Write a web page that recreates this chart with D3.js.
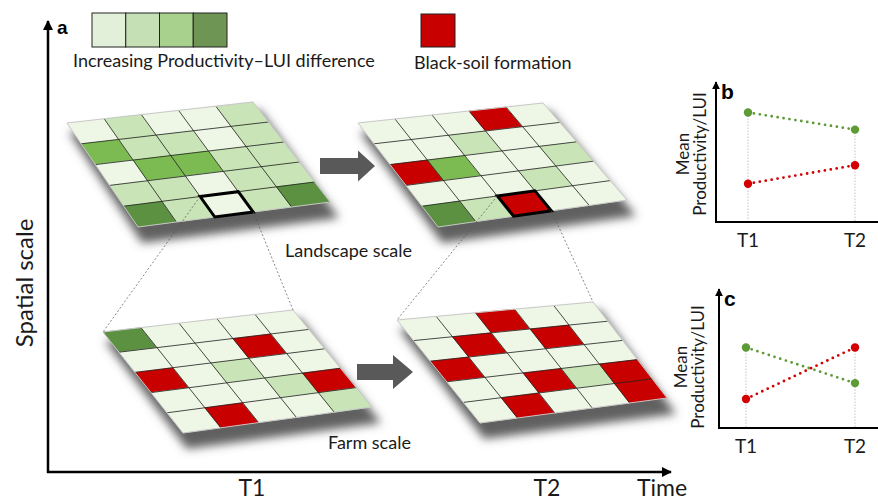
<!DOCTYPE html>
<html>
<head>
<meta charset="utf-8">
<script src="https://cdn.jsdelivr.net/npm/d3@7"></script>
<style>
  body { margin: 0; background: #fff; }
  svg { display: block; font-family: Lato, 'Noto Sans', sans-serif; }
</style>
</head>
<body>
<svg id="chart" width="878" height="502"></svg>
<script>
/* Productivity–LUI grids over time and spatial scale */

// cell codes: 1-4 = productivity–LUI difference level, 5 = black-soil formation
const landscapeT1 = [
  [1, 2, 1, 1, 2],
  [3, 2, 2, 1, 2],
  [1, 3, 3, 2, 2],
  [2, 2, 1, 2, 2],
  [4, 2, 1, 2, 4]
];
const landscapeT2 = [
  [1, 1, 1, 5, 1],
  [1, 1, 2, 1, 1],
  [5, 3, 1, 1, 2],
  [1, 1, 1, 2, 1],
  [4, 2, 5, 1, 1]
];
const farmT1 = [
  [4, 1, 1, 1, 1],
  [1, 1, 1, 5, 1],
  [5, 1, 2, 1, 1],
  [1, 1, 1, 2, 5],
  [1, 5, 1, 1, 2]
];
const farmT2 = [
  [1, 1, 5, 1, 1],
  [1, 5, 1, 5, 1],
  [5, 1, 1, 1, 1],
  [1, 1, 5, 2, 5],
  [1, 5, 1, 1, 5]
];
const legendLevels = [1, 2, 3, 4];
const times = ['T1', 'T2'];
// panel b / c: mean productivity (green) and LUI (red) at T1, T2
const panelBGreen = [0.83, 0.70];
const panelBRed = [0.29, 0.43];
const panelCGreen = [0.61, 0.34];
const panelCRed = [0.22, 0.61];

const ink = '#1a1a1a';
const svg = d3.select('#chart');
const defs = svg.append('defs');

defs.append('filter').attr('id', 'blur')
  .attr('x', '-20%').attr('y', '-20%').attr('width', '140%').attr('height', '140%')
  .append('feGaussianBlur').attr('stdDeviation', 5);

defs.append('marker').attr('id', 'arr')
  .attr('viewBox', '0 0 10 10').attr('refX', 9).attr('refY', 5)
  .attr('markerWidth', 4).attr('markerHeight', 4).attr('orient', 'auto')
  .append('path').attr('d', 'M0,0L10,5L0,10Z').attr('fill', '#000');

const cellColor = d3.scaleOrdinal()
  .domain([1, 2, 3, 4, 5])
  .range(['#eef7e6', '#c9e4b6', '#7cbb52', '#5c9142', '#c80000']);
const legendColor = d3.scaleOrdinal()
  .domain(legendLevels)
  .range(['#e2f0d9', '#c5e0b4', '#a9d18e', '#6e9553']);

// grid layout: four corners of each tilted board
const boards = [
  { data: landscapeT1, box: [4, 2], c: { tl: [67, 123], tr: [253, 102], br: [330, 202], bl: [138, 227] } },
  { data: landscapeT2, box: [4, 2], c: { tl: [358, 123], tr: [543, 103], br: [627, 200], bl: [438, 227] } },
  { data: farmT1, c: { tl: [103, 332], tr: [293, 310], br: [372, 407], bl: [183, 433] } },
  { data: farmT2, c: { tl: [397, 320], tr: [593, 302], br: [667, 398], bl: [480, 423] } }
];

const gu = d3.scaleLinear().domain([0, 5]).range([0, 1]);

function pt(c, col, row) {
  const u = gu(col), v = gu(row);
  const tx = c.tl[0] + (c.tr[0] - c.tl[0]) * u, ty = c.tl[1] + (c.tr[1] - c.tl[1]) * u;
  const bx = c.bl[0] + (c.br[0] - c.bl[0]) * u, by = c.bl[1] + (c.br[1] - c.bl[1]) * u;
  return [tx + (bx - tx) * v, ty + (by - ty) * v];
}
function quad(c, col, row, w = 1, h = 1) {
  return [pt(c, col, row), pt(c, col + w, row), pt(c, col + w, row + h), pt(c, col, row + h)]
    .map(p => p.join(',')).join(' ');
}

// shadows first
boards.forEach(b => {
  const pts = [[b.c.tl, 2, 9], [b.c.tr, 7, 8], [b.c.br, 9, 16], [b.c.bl, 4, 16]]
    .map(([p, dx, dy]) => [p[0] + dx, p[1] + dy].join(',')).join(' ');
  svg.append('polygon').attr('points', pts).attr('fill', '#606060').attr('filter', 'url(#blur)');
});

boards.forEach(b => {
  const g = svg.append('g');
  const cells = [];
  b.data.forEach((row, r) => row.forEach((v, k) => cells.push({ r, k, v })));
  g.selectAll('polygon.cell').data(cells).join('polygon')
    .attr('class', 'cell')
    .attr('points', d => quad(b.c, d.k, d.r))
    .attr('fill', d => cellColor(d.v))
    .attr('stroke', d => cellColor(d.v)).attr('stroke-width', 0.4);
  // interior grid lines
  d3.range(1, 5).forEach(i => {
    const a = pt(b.c, i, 0), z = pt(b.c, i, 5);
    g.append('line').attr('x1', a[0]).attr('y1', a[1]).attr('x2', z[0]).attr('y2', z[1])
      .attr('stroke', '#222').attr('stroke-width', 0.8);
    const a2 = pt(b.c, 0, i), z2 = pt(b.c, 5, i);
    g.append('line').attr('x1', a2[0]).attr('y1', a2[1]).attr('x2', z2[0]).attr('y2', z2[1])
      .attr('stroke', '#222').attr('stroke-width', 0.8);
  });
  g.append('polygon').attr('points', quad(b.c, 0, 0, 5, 5))
    .attr('fill', 'none').attr('stroke', '#c8c8c8').attr('stroke-width', 1);
  if (b.box) {
    g.append('polygon').attr('points', quad(b.c, b.box[1], b.box[0]))
      .attr('fill', 'none').attr('stroke', '#000').attr('stroke-width', 3)
      .attr('stroke-linejoin', 'miter');
  }
});

// zoom guide lines from the boxed cell to the farm board
[[0, 2], [1, 3]].forEach(([from, to]) => {
  const b = boards[from], f = boards[to];
  const [r, k] = b.box;
  const p1 = pt(b.c, k, r), p2 = pt(b.c, k + 1, r + 1);
  [[p1, f.c.tl], [p2, f.c.tr]].forEach(([a, z]) => {
    svg.append('line').attr('x1', a[0]).attr('y1', a[1]).attr('x2', z[0]).attr('y2', z[1])
      .attr('stroke', '#555').attr('stroke-width', 0.7).attr('stroke-dasharray', '2,2');
  });
});

// block arrows between time steps
function blockArrow(x0, x1, x2, yc, sh, hh) {
  return `M${x0},${yc - sh}L${x1},${yc - sh}L${x1},${yc - hh}L${x2},${yc}L${x1},${yc + hh}L${x1},${yc + sh}L${x0},${yc + sh}Z`;
}
svg.append('path').attr('d', blockArrow(320, 358, 375, 166, 8, 15.5)).attr('fill', '#595959');
svg.append('path').attr('d', blockArrow(357, 393, 413, 372, 8, 17)).attr('fill', '#595959');

svg.append('text').attr('x', 285).attr('y', 257).attr('font-size', 18).attr('fill', ink).text('Landscape scale');
svg.append('text').attr('x', 328).attr('y', 449).attr('font-size', 18).attr('fill', ink).text('Farm scale');

// legend
const lx = d3.scaleBand().domain(legendLevels).range([92, 227]);
svg.selectAll('rect.leg').data(legendLevels).join('rect')
  .attr('class', 'leg')
  .attr('x', d => lx(d)).attr('y', 13).attr('width', lx.bandwidth()).attr('height', 34)
  .attr('fill', d => legendColor(d)).attr('stroke', '#222').attr('stroke-width', 1);
svg.append('text').attr('x', 73).attr('y', 67).attr('font-size', 18).attr('fill', ink)
  .text('Increasing Productivity–LUI difference');
svg.append('rect').attr('x', 421).attr('y', 14).attr('width', 34).attr('height', 33)
  .attr('fill', cellColor(5)).attr('stroke', '#222').attr('stroke-width', 1);
svg.append('text').attr('x', 414).attr('y', 69).attr('font-size', 18).attr('fill', ink)
  .text('Black-soil formation');

// main axes
const mainX = d3.scalePoint().domain(times).range([252, 547]);
svg.append('line').attr('x1', 48).attr('y1', 473).attr('x2', 48).attr('y2', 21)
  .attr('stroke', '#000').attr('stroke-width', 2.5).attr('marker-end', 'url(#arr)');
svg.append('line').attr('x1', 47).attr('y1', 472).attr('x2', 671).attr('y2', 472)
  .attr('stroke', '#000').attr('stroke-width', 2.5).attr('marker-end', 'url(#arr)');
svg.selectAll('text.mt').data(times).join('text')
  .attr('class', 'mt')
  .attr('x', d => mainX(d)).attr('y', 496).attr('text-anchor', 'middle')
  .attr('font-size', 23).attr('fill', ink).text(d => d);
svg.append('text').attr('x', 637).attr('y', 496).attr('font-size', 23).attr('fill', ink).text('Time');
svg.append('text').attr('transform', 'translate(33,283) rotate(-90)')
  .attr('text-anchor', 'middle').attr('font-size', 24).attr('fill', ink).text('Spatial scale');
svg.append('text').attr('x', 57).attr('y', 34).attr('font-size', 19).attr('font-weight', 'bold')
  .attr('font-family', 'Liberation Sans, Arial, sans-serif').text('a');

// small panels b and c
function panel(opt) {
  const x = d3.scalePoint().domain(times).range(opt.xr);
  const y = d3.scaleLinear().domain([0, 1]).range(opt.yr);
  const g = svg.append('g');
  // guides
  times.forEach((t, i) => {
    const top = Math.min(y(opt.green[i]), y(opt.red[i]));
    g.append('line').attr('x1', x(t)).attr('x2', x(t)).attr('y1', top).attr('y2', opt.yr[0])
      .attr('stroke', '#aaa').attr('stroke-width', 0.7).attr('stroke-dasharray', '1.5,1.5');
  });
  g.append('line').attr('x1', opt.ax).attr('y1', opt.yr[0] + 1).attr('x2', opt.ax).attr('y2', opt.top)
    .attr('stroke', '#000').attr('stroke-width', 2).attr('marker-end', 'url(#arr)');
  g.append('line').attr('x1', opt.ax - 1).attr('y1', opt.yr[0]).attr('x2', 878).attr('y2', opt.yr[0])
    .attr('stroke', '#000').attr('stroke-width', 2);
  [[opt.green, '#5e9a36'], [opt.red, '#d40000']].forEach(([vals, col]) => {
    const line = d3.line().x((d, i) => x(times[i])).y(d => y(d));
    g.append('path').attr('d', line(vals)).attr('fill', 'none').attr('stroke', col)
      .attr('stroke-width', 2.8).attr('stroke-linecap', 'round').attr('stroke-dasharray', '0,6');
    g.selectAll(null).data(vals).join('circle')
      .attr('cx', (d, i) => x(times[i])).attr('cy', d => y(d)).attr('r', 4.2).attr('fill', col);
  });
  g.selectAll(null).data(times).join('text')
    .attr('x', d => x(d)).attr('y', opt.yr[0] + 25).attr('text-anchor', 'middle')
    .attr('font-size', 19).attr('fill', ink).text(d => d);
  const lab = g.append('text').attr('transform', `translate(${opt.lx},${opt.ly}) rotate(-90)`)
    .attr('text-anchor', 'middle').attr('font-size', 17).attr('fill', ink);
  lab.append('tspan').attr('x', 0).attr('y', -17).text('Mean');
  lab.append('tspan').attr('x', 0).attr('y', 0).text('Productivity/LUI');
  g.append('text').attr('x', opt.ax + 5).attr('y', opt.top + 17).attr('font-size', 21)
    .attr('font-weight', 'bold').attr('font-family', 'Liberation Sans, Arial, sans-serif').text(opt.tag);
}

panel({ tag: 'b', green: panelBGreen, red: panelBRed, xr: [748, 855], yr: [222, 90], ax: 716, top: 82, lx: 706, ly: 154 });
panel({ tag: 'c', green: panelCGreen, red: panelCRed, xr: [746, 855], yr: [428, 296], ax: 719, top: 289, lx: 704, ly: 367 });
</script>
</body>
</html>
